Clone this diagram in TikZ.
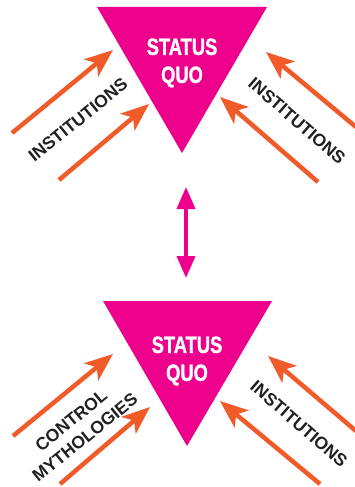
\documentclass[tikz,border=0pt]{standalone}
\usepackage{fontspec}
\setmainfont{Liberation Sans}
\newfontfamily\narrowsans[FakeStretch=0.78,FakeBold=1.2]{Liberation Sans Bold}
\usetikzlibrary{arrows.meta}
\definecolor{quopink}{HTML}{EC008C}
\definecolor{pushorange}{HTML}{F15A29}
\definecolor{ink}{HTML}{231F20}

\begin{document}
\begin{tikzpicture}[x=1pt,y=-1pt,
    quotext/.style={text=white,align=center,inner sep=0pt,font=\narrowsans\fontsize{23.5}{28}\selectfont},
    force/.style={text=ink,align=center,inner sep=0pt,font=\bfseries\fontsize{17.5}{22}\selectfont},
    push/.style={pushorange,line width=4.5pt,-{Stealth[length=28pt,width=22pt,inset=7pt]}},
    swap/.style={quopink,line width=4pt,{Triangle[length=22pt,width=18pt]}-{Triangle[length=22pt,width=18pt]}}]
    \useasboundingbox (0,0) rectangle (354,487);
    % the two triangles
    \fill[quopink] (97,7) -- (267,7) -- (182,153) -- cycle;
    \fill[quopink] (103,301) -- (272,301) -- (187,446) -- cycle;
    \node[quotext] (sq1) at (182,63) {STATUS\\QUO};
    \node[quotext] (sq2) at (187,361) {STATUS\\QUO};
    % upper pushes
    \coordinate (t1) at (12,133);  \coordinate (h1) at (113,50);
    \coordinate (t2) at (59,180);  \coordinate (h2) at (149,104);
    \coordinate (t3) at (356,127); \coordinate (h3) at (266,52);
    \coordinate (t4) at (318,182); \coordinate (h4) at (220,97);
    \draw[push] (t1)--(h1); \draw[push] (t2)--(h2);
    \draw[push] (t3)--(h3); \draw[push] (t4)--(h4);
    \node[force,rotate=39] (in1) at (78,120) {INSTITUTIONS};
    \node[force,rotate=-41] (in2) at (297,121) {INSTITUTIONS};
    % lower pushes
    \coordinate (t5) at (13,436);  \coordinate (h5) at (113,354);
    \coordinate (t6) at (60,484);  \coordinate (h6) at (150,407);
    \coordinate (t7) at (356,431); \coordinate (h7) at (268,356);
    \coordinate (t8) at (320,484); \coordinate (h8) at (220,401);
    \draw[push] (t5)--(h5); \draw[push] (t6)--(h6);
    \draw[push] (t7)--(h7); \draw[push] (t8)--(h8);
    \node[force,rotate=39] (cm) at (78,429) {CONTROL\\MYTHOLOGIES};
    \node[force,rotate=-41] (in3) at (299,424) {INSTITUTIONS};
    % link between the two
    \coordinate (up) at (186,187); \coordinate (dn) at (186,278);
    \draw[swap] (up)--(dn);
  \end{tikzpicture}
\end{document}
